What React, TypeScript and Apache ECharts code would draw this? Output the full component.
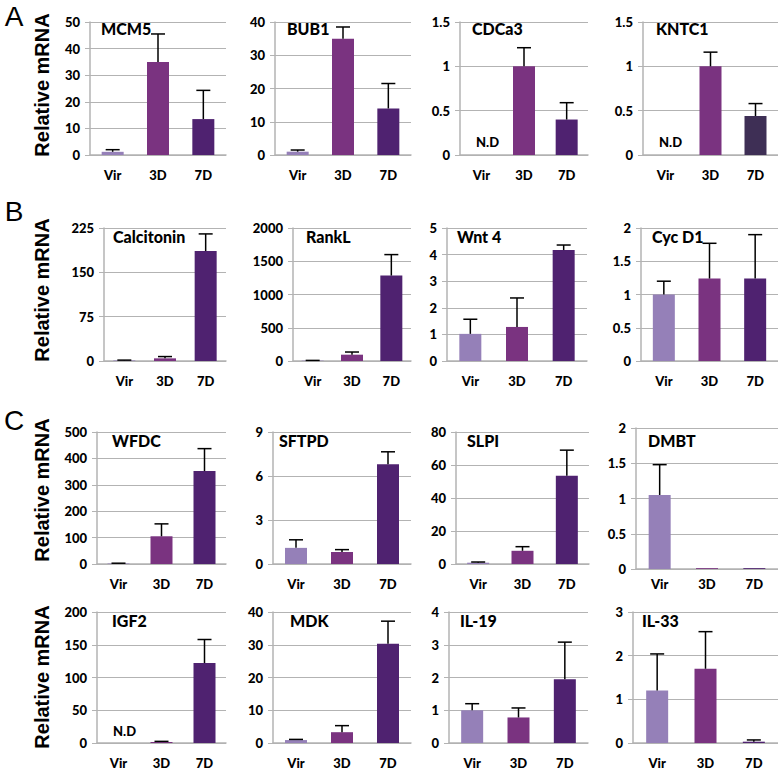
import React, { useEffect, useRef } from "react";
import * as echarts from "echarts";

const categories = ["Vir", "3D", "7D"];

// values and error-bar tops (null = not detected / no bar)
const mcm5 = [1.2, 35, 13.5];
const mcm5Top = [2, 45.5, 24.3];
const bub1 = [1, 35, 14];
const bub1Top = [1.5, 38.5, 21.5];
const cdca3 = [null, 1.0, 0.4];
const cdca3Top = [null, 1.21, 0.59];
const kntc1 = [null, 1.0, 0.44];
const kntc1Top = [null, 1.16, 0.58];

const calcitonin = [1, 4.5, 186];
const calcitoninTop = [1.5, 7.5, 215];
const rankl = [6, 95, 1285];
const ranklTop = [9, 135, 1600];
const wnt4 = [1.02, 1.28, 4.17];
const wnt4Top = [1.57, 2.37, 4.36];
const cycd1 = [1.0, 1.24, 1.24];
const cycd1Top = [1.2, 1.77, 1.9];

const wfdc = [2, 105, 352];
const wfdcTop = [3, 152, 437];
const sftpd = [1.1, 0.82, 6.8];
const sftpdTop = [1.65, 0.98, 7.65];
const slpi = [0.8, 8, 53.5];
const slpiTop = [1.2, 10.5, 69];
const dmbt = [1.05, 0.012, 0.012];
const dmbtTop = [1.48, null, null];

const igf2 = [null, 1.5, 122];
const igf2Top = [null, 2.5, 158];
const mdk = [0.9, 3.3, 30.3];
const mdkTop = [1.1, 5.3, 37.2];
const il19 = [1.0, 0.78, 1.95];
const il19Top = [1.2, 1.07, 3.08];
const il33 = [1.2, 1.7, 0.03];
const il33Top = [2.04, 2.55, 0.07];

const yMax = [50, 40, 1.5, 1.5, 225, 2000, 5, 2, 500, 9, 80, 2, 200, 40, 4, 3];
const yInterval = [10, 10, 0.5, 0.5, 75, 500, 1, 0.5, 100, 3, 20, 0.5, 50, 10, 1, 1];

const names = ["MCM5", "BUB1", "CDCa3", "KNTC1", "Calcitonin", "RankL", "Wnt 4", "Cyc D1",
  "WFDC", "SFTPD", "SLPI", "DMBT", "IGF2", "MDK", "IL-19", "IL-33"];
const valuesList = [mcm5, bub1, cdca3, kntc1, calcitonin, rankl, wnt4, cycd1, wfdc, sftpd, slpi, dmbt, igf2, mdk, il19, il33];
const topsList = [mcm5Top, bub1Top, cdca3Top, kntc1Top, calcitoninTop, ranklTop, wnt4Top, cycd1Top,
  wfdcTop, sftpdTop, slpiTop, dmbtTop, igf2Top, mdkTop, il19Top, il33Top];
const ndLabel = [false, false, true, true, false, false, false, false, false, false, false, false, true, false, false, false];

const barColors = ["#9580b8", "#7a3380", "#4f2270"];
const kntc1Dark = "#3e2f55";

// layout (pixel positions)
const rowTop = [22, 228, 432, 612];
const rowBottom = [155, 361, 564, 744];
const rowLefts = [[90, 275, 460, 643], [104, 293, 447, 641], [97, 273, 456, 636], [97, 273, 449, 633]];
const rowRights = [[226, 411, 588, 778], [226, 411, 587, 778], [226, 411, 589, 778], [226, 411, 588, 778]];
const titleX = [[101, 287, 472, 656], [113, 306, 457, 652], [112, 279, 467, 648], [112, 290, 460, 642]];
const titleY = [30, 238, 442, 622];
const yLabelCenter = [85, 290, 490, 677];

export default function App() {
  const ref = useRef<HTMLDivElement>(null);
  useEffect(() => {
    document.body.style.margin = "0";
    const chart = echarts.init(ref.current!, undefined, { renderer: "svg" });
    const grids: any[] = [];
    const xAxes: any[] = [];
    const yAxes: any[] = [];
    const series: any[] = [];
    const graphics: any[] = [];
    const gray = "#b3b3b3";
    const font = "Lato";
    for (let k = 0; k < 16; k++) {
      const r = Math.floor(k / 4);
      const c = k % 4;
      let top = rowTop[r];
      let bottom = rowBottom[r];
      if (k === 11) { top = 428; bottom = 569; }
      const left = rowLefts[r][c];
      const right = rowRights[r][c];
      grids.push({ left, top, width: right - left, height: bottom - top });
      xAxes.push({
        type: "category", gridIndex: k, data: categories,
        axisLine: { lineStyle: { color: gray, width: 1.5 } },
        axisTick: { show: false },
        axisLabel: { color: "#000", fontWeight: 900, fontSize: 13, fontFamily: font, margin: k === 11 ? 8 : 13 },
      });
      yAxes.push({
        type: "value", gridIndex: k, min: 0, max: yMax[k], interval: yInterval[k],
        axisLine: { show: true, lineStyle: { color: gray, width: 1.5 } },
        axisTick: { show: true, length: 5, lineStyle: { color: gray } },
        splitLine: { lineStyle: { color: gray, width: 1.2 } },
        axisLabel: {
          color: "#000", fontWeight: 900, fontSize: 13, fontFamily: font, margin: 10,
          formatter: (v: number) => String(v),
        },
      });
      const vals = valuesList[k];
      const tops = topsList[k];
      series.push({
        type: "bar", xAxisIndex: k, yAxisIndex: k, barWidth: 22,
        data: vals.map((v, i) => ({
          value: v === null ? "-" : v,
          itemStyle: { color: k === 3 && i === 2 ? kntc1Dark : barColors[i] },
        })),
      });
      const errData: any[] = [];
      vals.forEach((v, i) => {
        if (v !== null && tops[i] !== null) errData.push([i, v, tops[i]]);
      });
      series.push({
        type: "custom", xAxisIndex: k, yAxisIndex: k, z: 5,
        data: errData,
        renderItem: (params: any, api: any) => {
          const i = api.value(0);
          const p0 = api.coord([i, api.value(1)]);
          const p1 = api.coord([i, api.value(2)]);
          const st = { stroke: "#000", lineWidth: 1.5 };
          return {
            type: "group",
            children: [
              { type: "line", shape: { x1: p0[0], y1: p0[1], x2: p1[0], y2: p1[1] }, style: st },
              { type: "line", shape: { x1: p1[0] - 7, y1: p1[1], x2: p1[0] + 7, y2: p1[1] }, style: st },
            ],
          };
        },
      });
      graphics.push({
        type: "text", left: titleX[r][c], top: titleY[r] - 10,
        style: { text: names[k], fontSize: 16, fontWeight: 900, fontFamily: font, fill: "#000" },
      });
      if (ndLabel[k]) {
        graphics.push({
          type: "text", left: left + 16, top: bottom - 20,
          style: { text: "N.D", fontSize: 13, fontWeight: 900, fontFamily: font, fill: "#000" },
        });
      }
    }
    for (let r = 0; r < 4; r++) {
      graphics.push({
        type: "text", x: 42, y: yLabelCenter[r], rotation: Math.PI / 2,
        style: {
          text: "Relative mRNA", fontSize: 20, fontWeight: "bold", fontFamily: "Liberation Sans",
          fill: "#000", align: "center", verticalAlign: "middle",
        },
      });
    }
    const letters = ["A", "B", "C"];
    const letterY = [16, 211, 420];
    letters.forEach((t, i) => {
      graphics.push({
        type: "text", x: 14, y: letterY[i],
        style: { text: t, fontSize: 28, fontFamily: "Liberation Sans", fill: "#000", align: "center", verticalAlign: "middle" },
      });
    });
    chart.setOption({
      animation: false,
      backgroundColor: "#fff",
      grid: grids,
      xAxis: xAxes,
      yAxis: yAxes,
      series,
      graphic: graphics,
    });
    return () => chart.dispose();
  }, []);
  return <div ref={ref} style={{ width: 778, height: 769 }} />;
}
